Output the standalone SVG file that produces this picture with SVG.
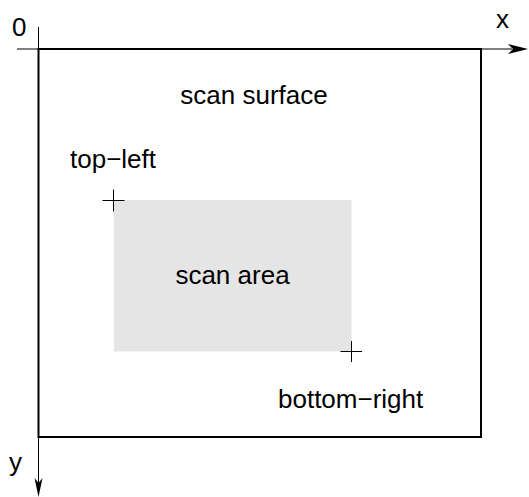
<svg xmlns="http://www.w3.org/2000/svg" width="529" height="497" viewBox="0 0 529 497">
<style>
text{font-family:"Liberation Sans",Arial,sans-serif;font-size:26px;fill:#000}
.axis{stroke:#000;stroke-width:1;fill:none}
.frame{stroke:#000;stroke-width:2;fill:none}
.cross{stroke:#000;stroke-width:1;fill:none}
</style>
<rect width="529" height="497" fill="#fff"/>
<g id="connectors">
<line class="axis" x1="17" y1="49" x2="512" y2="49"/>
<polygon points="528,49 508,44 513,49 508,54" fill="#000"/>
<line class="axis" x1="38.5" y1="27" x2="38.5" y2="484"/>
<polygon points="38.5,497 34.5,478 38.5,483 42.5,478" fill="#000"/>
</g>
<g id="scan-surface">
<rect class="frame" x="38.5" y="49" width="442.5" height="388"/>
<text x="254" y="104" text-anchor="middle">scan surface</text>
</g>
<g id="scan-area">
<rect x="114" y="200" width="237.5" height="151.5" fill="#e5e5e5"/>
<text x="232.5" y="284" text-anchor="middle">scan area</text>
</g>
<g id="top-left">
<path class="cross" d="M102.5 200.5H124.5M113.5 189.5V211.5"/>
<text x="70" y="168">top−left</text>
</g>
<g id="bottom-right">
<path class="cross" d="M340.5 351.5H362M351.5 341V362"/>
<text x="278" y="408">bottom−right</text>
</g>
<g id="labels">
<text x="12" y="36">0</text>
<text x="496" y="28">x</text>
<text x="9" y="471">y</text>
</g>
</svg>
